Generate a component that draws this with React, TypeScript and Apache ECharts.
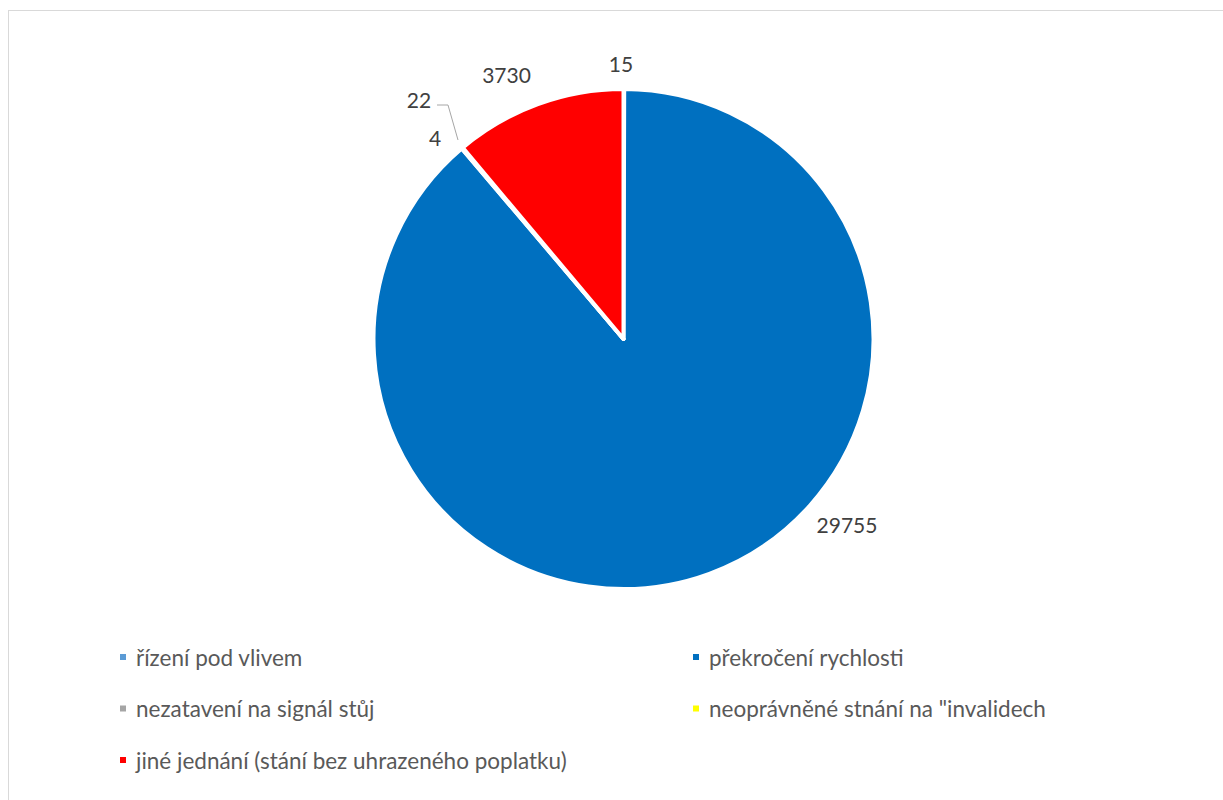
import React, { useEffect, useRef } from "react";
import * as echarts from "echarts";

const categories = [
  "řízení pod vlivem",
  "překročení rychlosti",
  "nezatavení na signál stůj",
  "neoprávněné stnání na \"invalidech",
  "jiné jednání (stání bez uhrazeného poplatku)",
];
const values = [15, 29755, 22, 4, 3730];
const colors = ["#5B9BD5", "#0070C0", "#A5A5A5", "#FFFF00", "#FF0000"];

const legendLeftColumn = [categories[0], categories[2], categories[4]];
const legendRightColumn = [categories[1], categories[3]];

// layout (chart coordinates)
const CX = 614.5;
const CY = 328;
const LABEL_OFFSETS: number[][] = [
  [-2.5, -275.5],
  [223.5, 185],
  [-204.5, -239.5],
  [-188.5, -202],
  [-117, -264.5],
];
const LEADER_22: number[][] = [
  [-165.5, -199],
  [-175.5, -234],
  [-186.5, -234],
];

export default function App() {
  const ref = useRef<HTMLDivElement>(null);
  useEffect(() => {
    document.body.style.overflow = "hidden";
    const chart = echarts.init(ref.current!, null, { renderer: "svg" });
    const legendText = {
      color: "#595959",
      fontSize: 22.5,
      fontFamily: "Lato, 'Open Sans', sans-serif",
      lineHeight: 24,
      padding: [0, 0, 0, 4],
    };
    const legendBase = {
      orient: "vertical",
      top: 634,
      padding: 0,
      itemGap: 27.5,
      itemWidth: 8,
      itemHeight: 8,
      icon: "rect",
      textStyle: legendText,
      selectedMode: false,
    };
    chart.setOption({
      animation: false,
      backgroundColor: "#ffffff",
      color: colors,
      legend: [
        { ...legendBase, left: 109, data: legendLeftColumn },
        { ...legendBase, left: 682, data: legendRightColumn },
      ],
      series: [
        {
          type: "pie",
          center: [CX, CY],
          radius: 250,
          startAngle: 90,
          clockwise: true,
          avoidLabelOverlap: false,
          minAngle: 0,
          itemStyle: { borderColor: "#ffffff", borderWidth: 4 },
          label: {
            show: true,
            formatter: "{c}",
            color: "#404040",
            fontSize: 21,
            fontFamily: "Lato, 'Open Sans', sans-serif",
          },
          labelLine: { show: false },
          labelLayout: (params: any) => {
            const i = params.dataIndex;
            const o = LABEL_OFFSETS[i];
            const res: any = {
              x: CX + o[0],
              y: CY + o[1],
              align: "center",
              verticalAlign: "middle",
            };
            if (i === 2) {
              res.labelLinePoints = LEADER_22.map((p) => [CX + p[0], CY + p[1]]);
            }
            return res;
          },
          emphasis: { disabled: true },
          data: categories.map((name, i) => ({
            name,
            value: values[i],
            labelLine:
              i === 2
                ? { show: true, lineStyle: { color: "#A6A6A6", width: 1 } }
                : { show: false },
          })),
        },
      ],
    });
    return () => chart.dispose();
  }, []);
  return (
    <div
      style={{
        position: "absolute",
        left: 8,
        top: 10,
        width: 1215,
        height: 790,
        boxSizing: "border-box",
        borderTop: "1px solid #d9d9d9",
        borderLeft: "1px solid #d9d9d9",
      }}
    >
      <div ref={ref} style={{ width: "100%", height: "100%" }} />
    </div>
  );
}
